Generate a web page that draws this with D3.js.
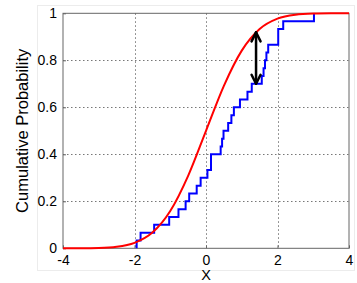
<!DOCTYPE html>
<html>
<head>
<meta charset="utf-8">
<script src="https://cdn.jsdelivr.net/npm/d3@7"></script>
<style>
  html, body { margin: 0; padding: 0; background: #fff; }
  svg { display: block; }
  text { font-family: "Liberation Sans", Arial, sans-serif; fill: #000; }
</style>
</head>
<body>
<svg id="chart" width="357" height="283"></svg>
<script>
// ---- data ----
const xTicks = [-4, -2, 0, 2, 4];
const xTickLabels = ["-4", "-2", "0", "2", "4"];
const yTicks = [0, 0.2, 0.4, 0.6, 0.8, 1];
const yTickLabels = ["0", "0.2", "0.4", "0.6", "0.8", "1"];
const xLabel = "X";
const yLabel = "Cumulative Probability";

// sample values (empirical CDF, blue stairs)
const sampleX = [-1.94, -1.83, -1.45, -1.03, -0.77, -0.57, -0.47, -0.26, -0.15, 0.04,
                 0.14, 0.14, 0.41, 0.45, 0.49, 0.62, 0.71, 0.78, 0.95, 1.16,
                 1.28, 1.56, 1.61, 1.65, 1.69, 1.74, 2.02, 2.02, 2.16, 3.02];
// reference CDF (red curve) read at x positions
const cdfX = [-4, -3.5, -3, -2.5, -2, -1.5, -1, -0.5, 0, 0.5, 1, 1.5, 2, 2.5, 3, 3.5, 4];
const cdfP = [0.0000, 0.0002, 0.0013, 0.0062, 0.0228, 0.0668, 0.1587, 0.3085, 0.5,
              0.6915, 0.8413, 0.9332, 0.9772, 0.9938, 0.9987, 0.9998, 1.0];
// arrow marking max distance
const arrowX = 1.4;
const arrowLow = 0.7;
const arrowHigh = 0.919;

// ---- layout ----
const svg = d3.select("#chart");
const L = 63, R = 349, T = 13.3, B = 248.3;
const x = d3.scaleLinear().domain([-4, 4]).range([L, R]);
const y = d3.scaleLinear().domain([0, 1]).range([B, T]);

// faint outer figure border
svg.append("rect").attr("x", 37.5).attr("y", 5.5).attr("width", 317).attr("height", 265)
  .attr("fill", "none").attr("stroke", "#ececec").attr("stroke-width", 1);

// grid
const g = svg.append("g");
g.selectAll(".vg").data(xTicks.slice(1, -1)).enter().append("line")
  .attr("x1", d => Math.round(x(d)) + 0.5).attr("x2", d => Math.round(x(d)) + 0.5)
  .attr("y1", T).attr("y2", B)
  .attr("stroke", "#777").attr("stroke-width", 1).attr("stroke-dasharray", "1.5,2.5");
g.selectAll(".hg").data(yTicks.slice(1, -1)).enter().append("line")
  .attr("x1", L).attr("x2", R)
  .attr("y1", d => Math.round(y(d)) + 0.5).attr("y2", d => Math.round(y(d)) + 0.5)
  .attr("stroke", "#777").attr("stroke-width", 1).attr("stroke-dasharray", "1.5,2.5");

// axes box
svg.append("rect").attr("x", L).attr("y", T).attr("width", R - L).attr("height", B - T)
  .attr("fill", "none").attr("stroke", "#666").attr("stroke-width", 1);

// axes with D3 (inner ticks)
const xAxis = d3.axisBottom(x).tickValues(xTicks).tickFormat((d, i) => xTickLabels[i])
  .tickSizeInner(-3).tickSizeOuter(0).tickPadding(7);
const ax = svg.append("g").attr("transform", `translate(0,${B})`).call(xAxis);
ax.select(".domain").remove();
ax.selectAll("line").attr("stroke", "#666");
ax.selectAll("text").attr("font-size", 14).style("font-family", "'Liberation Sans', Arial, sans-serif");

const yAxis = d3.axisLeft(y).tickValues(yTicks).tickFormat((d, i) => yTickLabels[i])
  .tickSizeInner(-3).tickSizeOuter(0).tickPadding(6);
const ay = svg.append("g").attr("transform", `translate(${L},0)`).call(yAxis);
ay.select(".domain").remove();
ay.selectAll("line").attr("stroke", "#666");
ay.selectAll("text").attr("font-size", 14).style("font-family", "'Liberation Sans', Arial, sans-serif");

// axis labels
svg.append("text").attr("x", (L + R) / 2).attr("y", 280).attr("text-anchor", "middle")
  .attr("font-size", 14.5).text(xLabel);
svg.append("text").attr("transform", `translate(28,${(T + B) / 2}) rotate(-90)`)
  .attr("text-anchor", "middle").attr("font-size", 16.5).text(yLabel);

// ECDF stairs
const n = sampleX.length;
const ecdfPts = [[sampleX[0], 0]].concat(sampleX.map((v, i) => [v, (i + 1) / n]));
const stair = d3.line().x(d => x(d[0])).y(d => y(d[1])).curve(d3.curveStepAfter);
svg.append("path").datum(ecdfPts).attr("d", stair)
  .attr("fill", "none").attr("stroke", "#0000ff").attr("stroke-width", 2)
  .attr("stroke-linejoin", "miter");

// reference CDF
const cdfLine = d3.line().x(d => x(d[0])).y(d => y(d[1])).curve(d3.curveMonotoneX);
svg.append("path").datum(cdfX.map((v, i) => [v, cdfP[i]])).attr("d", cdfLine)
  .attr("fill", "none").attr("stroke", "#ff0000").attr("stroke-width", 2);

// double-headed arrow
const ax0 = x(arrowX), ayTop = y(arrowHigh), ayBot = y(arrowLow);
const arrow = svg.append("g").attr("stroke", "#000").attr("stroke-width", 2.5)
  .attr("fill", "none").attr("stroke-linecap", "round").attr("stroke-linejoin", "round");
arrow.append("line").attr("x1", ax0).attr("x2", ax0).attr("y1", ayTop).attr("y2", ayBot);
arrow.append("path").attr("d", `M${ax0 - 4.5},${ayTop + 9}L${ax0},${ayTop}L${ax0 + 4.5},${ayTop + 9}`);
arrow.append("path").attr("d", `M${ax0 - 4.5},${ayBot - 9}L${ax0},${ayBot}L${ax0 + 4.5},${ayBot - 9}`);
</script>
</body>
</html>
